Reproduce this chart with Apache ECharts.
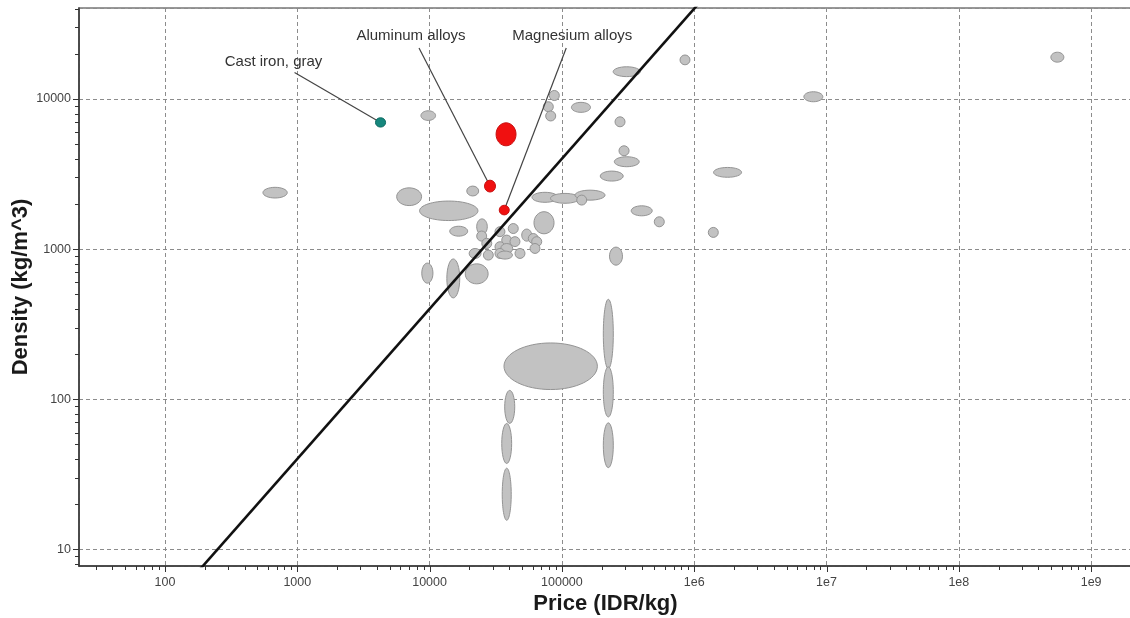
<!DOCTYPE html>
<html>
<head>
<meta charset="utf-8">
<script src="https://cdn.jsdelivr.net/npm/echarts@6/dist/echarts.min.js"></script>
<style>
  html, body { margin: 0; padding: 0; background: #ffffff; }
  #chart { width: 1130px; height: 618px; }
</style>
</head>
<body>
<div id="chart"></div>
<script>
// Axis extents (log scales)
const PRICE_MIN = 22.4, PRICE_MAX = 2.34e9;
const DENSITY_MIN = 7.74, DENSITY_MAX = 40400;

const xTickValues = [100, 1000, 10000, 100000, 1e6, 1e7, 1e8, 1e9];
const xTickLabels = ['100', '1000', '10000', '100000', '1e6', '1e7', '1e8', '1e9'];
const yTickValues = [10, 100, 1000, 10000];
const yTickLabels = ['10', '100', '1000', '10000'];

// Material families: price range (IDR/kg) and density range (kg/m^3)
const priceLow = [550, 8600, 19100, 5640, 8400, 14200,
  22700, 22700, 31200, 39300, 35100, 40500, 31200, 34500, 24800, 19900, 25500, 31200, 32600, 44200,
  49700, 55700, 59100, 57400, 61500, 18600, 13500, 8730,
  80300, 72300, 75400, 118000, 252000, 270000, 249000, 195000, 59400, 82000, 125600, 129400,
  334000, 499000, 1400000, 781000, 244000, 1278000, 229000, 4.96e8, 6.74e6,
  36500, 205600, 205600, 205600, 36950, 35100, 35400];
const priceHigh = [840, 11100, 23500, 8700, 23200, 19400,
  27300, 27000, 37100, 46800, 41700, 48200, 37100, 42500, 29500, 24500, 30300, 37100, 42300, 52600,
  59100, 66300, 70400, 68300, 87200, 27700, 16900, 10600,
  95600, 86100, 89800, 164500, 300000, 322000, 384000, 290600, 93400, 135800, 211800, 153900,
  481500, 594000, 2280000, 929000, 391000, 1521000, 287000, 6.22e8, 9.38e6,
  185400, 244600, 244600, 244600, 44000, 41700, 41400];
const densityLow = [2190, 7200, 2260, 1950, 1550, 1220,
  1250, 1130, 1210, 1270, 1060, 1040, 960, 936, 1010, 867, 845, 867, 858, 867,
  1130, 1090, 1040, 936, 1265, 587, 473, 593,
  9770, 8230, 7140, 8150, 6530, 4190, 3540, 2840, 2050, 2020, 2120, 1965,
  1667, 1408, 3010, 16900, 14100, 1197, 782, 17600, 9590,
  116, 160, 76.2, 35, 69, 37.3, 15.6];
const densityHigh = [2580, 8350, 2630, 2560, 2090, 1420,
  1590, 1320, 1410, 1480, 1240, 1210, 1120, 1090, 1180, 1010, 985, 1010, 970, 1010,
  1360, 1270, 1210, 1090, 1775, 798, 860, 807,
  11400, 9590, 8320, 9500, 7610, 4880, 4125, 3310, 2390, 2350, 2470, 2290,
  1943, 1642, 3500, 19650, 16400, 1395, 1031, 20500, 11180,
  237, 463, 164, 69.6, 114.5, 68.9, 34.7];

// Highlighted materials
const markedNames = ['Cast iron, gray', 'Aluminum alloys', 'Magnesium alloys', ''];
const markedPriceLow = [3900, 26000, 33600, 31800];
const markedPriceHigh = [4650, 31500, 40000, 45000];
const markedDensityLow = [6500, 2400, 1690, 4880];
const markedDensityHigh = [7500, 2880, 1960, 6940];
const markedGroup = ['iron', 'light', 'light', 'light'];

// Selection guide line: density = price / 25
const guidePrice = [100, 2e6];
const guideDensity = [4, 80000];

// Callout placement, pixel offsets from the marked point
const calloutLayout = [
  { lineFrom: [-86, -50], text: [-107, -61] },
  { lineFrom: [-71, -138], text: [-79, -150] },
  { lineFrom: [62, -162], text: [68, -174] }
];

const groupStyle = {
  iron:  { fill: '#16877d', stroke: '#0f6b62' },
  light: { fill: '#f01010', stroke: '#c81010' }
};

const backgroundData = priceLow.map((p, i) => [p, priceHigh[i], densityLow[i], densityHigh[i]]);
const markedData = markedNames.map((n, i) => [markedPriceLow[i], markedPriceHigh[i], markedDensityLow[i], markedDensityHigh[i], i]);
const calloutData = markedNames
  .map((n, i) => [Math.sqrt(markedPriceLow[i] * markedPriceHigh[i]), Math.sqrt(markedDensityLow[i] * markedDensityHigh[i]), i])
  .filter(d => markedNames[d[2]] !== '');
const guideData = guidePrice.map((p, i) => [p, guideDensity[i]]);

function ellipseShape(api) {
  const a = api.coord([api.value(0), api.value(2)]);
  const b = api.coord([api.value(1), api.value(3)]);
  return {
    cx: (a[0] + b[0]) / 2,
    cy: (a[1] + b[1]) / 2,
    rx: Math.abs(b[0] - a[0]) / 2,
    ry: Math.abs(b[1] - a[1]) / 2
  };
}

function labelFor(values, labels) {
  return function (v) {
    const l = Math.log10(v);
    if (Math.abs(l - Math.round(l)) > 1e-6) return '';
    const idx = values.findIndex(t => Math.abs(Math.log10(t) - l) < 1e-6);
    return idx >= 0 ? labels[idx] : '';
  };
}

// Major and minor log ticks drawn outside the plot frame
function renderTicks(params, api) {
  const cs = params.coordSys;
  const bottom = cs.y + cs.height, left = cs.x;
  const children = [];
  const tickStyle = { stroke: '#333', lineWidth: 1 };
  for (let d = 1; d <= 9; d++) {
    for (let m = 1; m <= 9; m++) {
      const v = m * Math.pow(10, d);
      if (v < PRICE_MIN || v > PRICE_MAX) continue;
      const x = Math.round(api.coord([v, DENSITY_MIN])[0]) + 0.5;
      const len = m === 1 ? 6 : 4;
      children.push({ type: 'line', shape: { x1: x, y1: bottom, x2: x, y2: bottom + len }, style: tickStyle });
    }
  }
  for (let d = 0; d <= 4; d++) {
    for (let m = 1; m <= 9; m++) {
      const v = m * Math.pow(10, d);
      if (v < DENSITY_MIN || v > DENSITY_MAX) continue;
      const y = Math.round(api.coord([PRICE_MIN, v])[1]) + 0.5;
      const len = m === 1 ? 6 : 4;
      children.push({ type: 'line', shape: { x1: left - len, y1: y, x2: left, y2: y }, style: tickStyle });
    }
  }
  return { type: 'group', children: children };
}

const chart = echarts.init(document.getElementById('chart'), null, { renderer: 'canvas' });

chart.setOption({
  animation: false,
  backgroundColor: '#ffffff',
  grid: {
    left: 79, top: 8, width: 1061, height: 558,
    outerBoundsMode: 'none', containLabel: false,
    show: true, borderColor: '#777', borderWidth: 1.5, backgroundColor: '#ffffff'
  },
  xAxis: {
    type: 'log', logBase: 10, min: PRICE_MIN, max: PRICE_MAX,
    name: 'Price (IDR/kg)', nameLocation: 'middle', nameGap: 27, nameMoveOverlap: false,
    nameTextStyle: { fontFamily: 'Liberation Sans', fontWeight: 'bold', fontSize: 22, color: '#1a1a1a', padding: [0, 8, 0, 0] },
    axisLine: { show: true, lineStyle: { color: '#333', width: 1.5 } },
    axisTick: { show: false },
    axisLabel: {
      formatter: labelFor(xTickValues, xTickLabels), margin: 10,
      fontFamily: 'Liberation Sans', fontSize: 12.5, color: '#444',
      showMinLabel: false, showMaxLabel: false
    },
    splitLine: { show: true, lineStyle: { color: '#8c8c8c', type: [4, 3], width: 1 } },
    minorTick: { show: false }, minorSplitLine: { show: false }
  },
  yAxis: {
    type: 'log', logBase: 10, min: DENSITY_MIN, max: DENSITY_MAX,
    name: 'Density (kg/m^3)', nameLocation: 'middle', nameGap: 47, nameMoveOverlap: false,
    nameTextStyle: { fontFamily: 'Liberation Sans', fontWeight: 'bold', fontSize: 22, color: '#1a1a1a' },
    axisLine: { show: true, lineStyle: { color: '#333', width: 1.5 } },
    axisTick: { show: false },
    axisLabel: {
      formatter: labelFor(yTickValues, yTickLabels), margin: 8,
      fontFamily: 'Liberation Sans', fontSize: 12.5, color: '#444',
      showMinLabel: false, showMaxLabel: false
    },
    splitLine: { show: true, lineStyle: { color: '#8c8c8c', type: [4, 3], width: 1 } },
    minorTick: { show: false }, minorSplitLine: { show: false }
  },
  series: [
    {
      type: 'custom', name: 'ticks', silent: true, clip: false, z: 1,
      data: [[PRICE_MIN, DENSITY_MIN]],
      renderItem: renderTicks
    },
    {
      type: 'custom', name: 'materials', clip: true, z: 2,
      encode: { x: [0, 1], y: [2, 3] },
      data: backgroundData,
      renderItem: function (params, api) {
        return {
          type: 'ellipse',
          shape: ellipseShape(api),
          style: { fill: '#c2c2c2', stroke: '#949494', lineWidth: 1 }
        };
      }
    },
    {
      type: 'line', name: 'guide', z: 3, clip: true,
      data: guideData, symbol: 'none',
      lineStyle: { color: '#111', width: 2.6 }
    },
    {
      type: 'custom', name: 'callouts', clip: false, z: 4,
      data: calloutData,
      renderItem: function (params, api) {
        const i = api.value(2);
        const c = api.coord([api.value(0), api.value(1)]);
        const lay = calloutLayout[i];
        return {
          type: 'group',
          children: [
            {
              type: 'line',
              shape: { x1: c[0] + lay.lineFrom[0], y1: c[1] + lay.lineFrom[1], x2: c[0], y2: c[1] },
              style: { stroke: '#444', lineWidth: 1.2 }
            },
            {
              type: 'text',
              x: c[0] + lay.text[0], y: c[1] + lay.text[1],
              style: {
                text: markedNames[i], fill: '#333', align: 'center', verticalAlign: 'middle',
                font: '15px "Liberation Sans", Arial, sans-serif'
              }
            }
          ]
        };
      }
    },
    {
      type: 'custom', name: 'marked', clip: true, z: 5,
      encode: { x: [0, 1], y: [2, 3] },
      data: markedData,
      renderItem: function (params, api) {
        const st = groupStyle[markedGroup[api.value(4)]];
        return {
          type: 'ellipse',
          shape: ellipseShape(api),
          style: { fill: st.fill, stroke: st.stroke, lineWidth: 1 }
        };
      }
    }
  ]
});
</script>
</body>
</html>
